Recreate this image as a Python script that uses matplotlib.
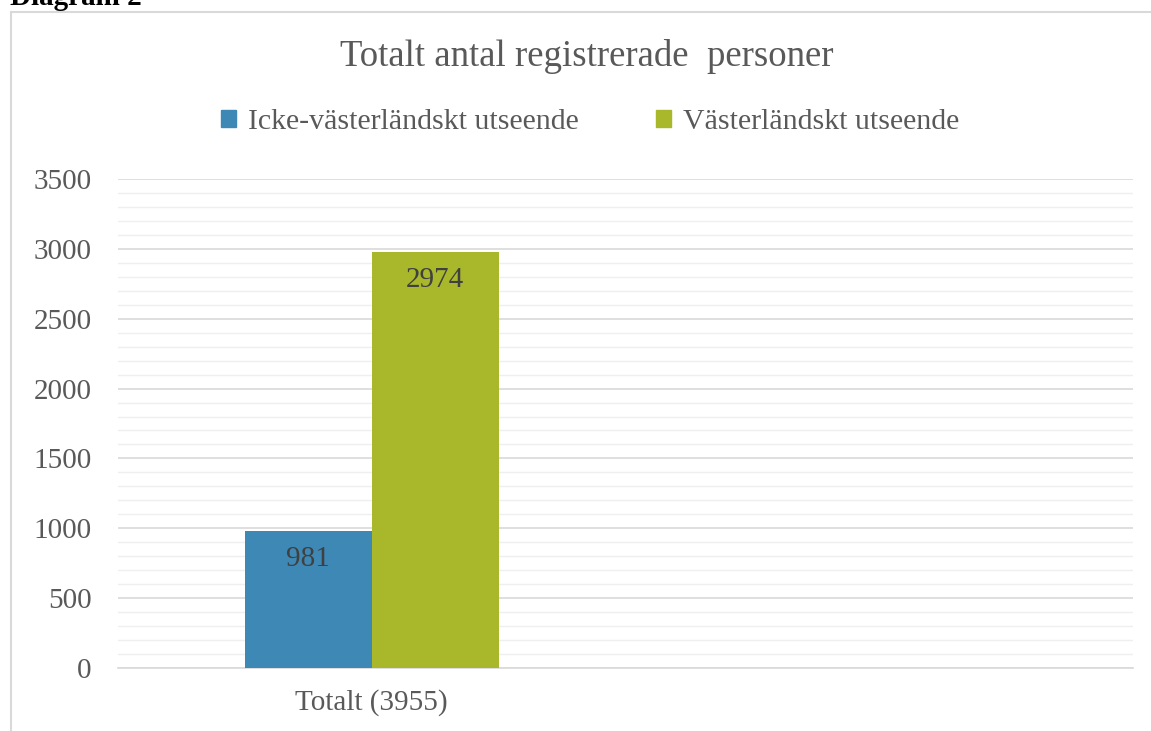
import matplotlib.pyplot as plt
from matplotlib.lines import Line2D
from matplotlib.ticker import MultipleLocator
import numpy as np

plt.rcParams['font.family'] = ['Liberation Serif', 'DejaVu Serif']

categories = ['Totalt (3955)', '']
series_names = ['Icke-västerländskt utseende', 'Västerländskt utseende']
icke_vast = [981, None]
vast = [2974, None]
colors = ['#3E88B5', '#A8B82A']
grey = '#595959'

W, H = 1151, 731
fig = plt.figure(figsize=(W / 100, H / 100), dpi=100)

# plot area in pixels: x 118..1133, y 179..668
ax = fig.add_axes([118 / W, 1 - 668 / H, (1133 - 118) / W, (668 - 179) / H])

x = np.arange(len(categories))
bw = 0.25
for i, (vals, name) in enumerate(zip([icke_vast, vast], series_names)):
    xs = [xi for xi, v in zip(x, vals) if v is not None]
    vs = [v for v in vals if v is not None]
    off = (i - 0.5) * bw
    ax.bar(np.array(xs) + off, vs, width=bw, color=colors[i], zorder=3, label=name)
    for xi, v in zip(xs, vs):
        ax.annotate(str(v), (xi + off, v), xytext=(0, -20), textcoords='offset points',
                    ha='center', va='center', fontsize=21, color='#404040', zorder=4)

ax.set_xlim(-0.5, 1.5)
ax.set_ylim(0, 3500)
ax.yaxis.set_major_locator(MultipleLocator(500))
ax.yaxis.set_minor_locator(MultipleLocator(100))
ax.grid(axis='y', which='major', color='#D9D9D9', linewidth=1.2, zorder=0)
ax.grid(axis='y', which='minor', color='#EFEFEF', linewidth=1.0, zorder=0)
ax.set_xticks(x)
ax.set_xticklabels(categories, fontsize=21, color=grey)
ax.tick_params(axis='both', which='both', length=0)
ax.tick_params(axis='y', labelsize=21, labelcolor=grey, pad=19)
ax.tick_params(axis='x', pad=15)
for s in ['top', 'right', 'left']:
    ax.spines[s].set_visible(False)
ax.spines['bottom'].set_color('#D9D9D9')
ax.spines['bottom'].set_linewidth(1.2)

fig.text(587 / W, 1 - 56 / H, 'Totalt antal registrerade  personer', ha='center',
         va='center', fontsize=26.5, color=grey)

handles = [plt.Rectangle((0, 0), 1, 1, color=c) for c in colors]
fig.legend(handles, series_names, loc='center', bbox_to_anchor=(590 / W, 1 - 122 / H),
           ncol=2, frameon=False, fontsize=21.5, labelcolor=grey, handlelength=0.5,
           handleheight=0.5, handletextpad=0.4, columnspacing=2.6)

# outer frame (left and top edges visible)
fig.add_artist(Line2D([11 / W, 11 / W], [0, 1 - 12 / H], color='#D9D9D9', linewidth=1.5))
fig.add_artist(Line2D([11 / W, 1], [1 - 12 / H, 1 - 12 / H], color='#D9D9D9', linewidth=1.5))

fig.text(10 / W, 1 - 5 / H, 'Diagram 2', ha='left', va='baseline', fontsize=21,
         fontweight='bold', color='black')

fig.savefig('out.png', dpi=100, facecolor='white')
